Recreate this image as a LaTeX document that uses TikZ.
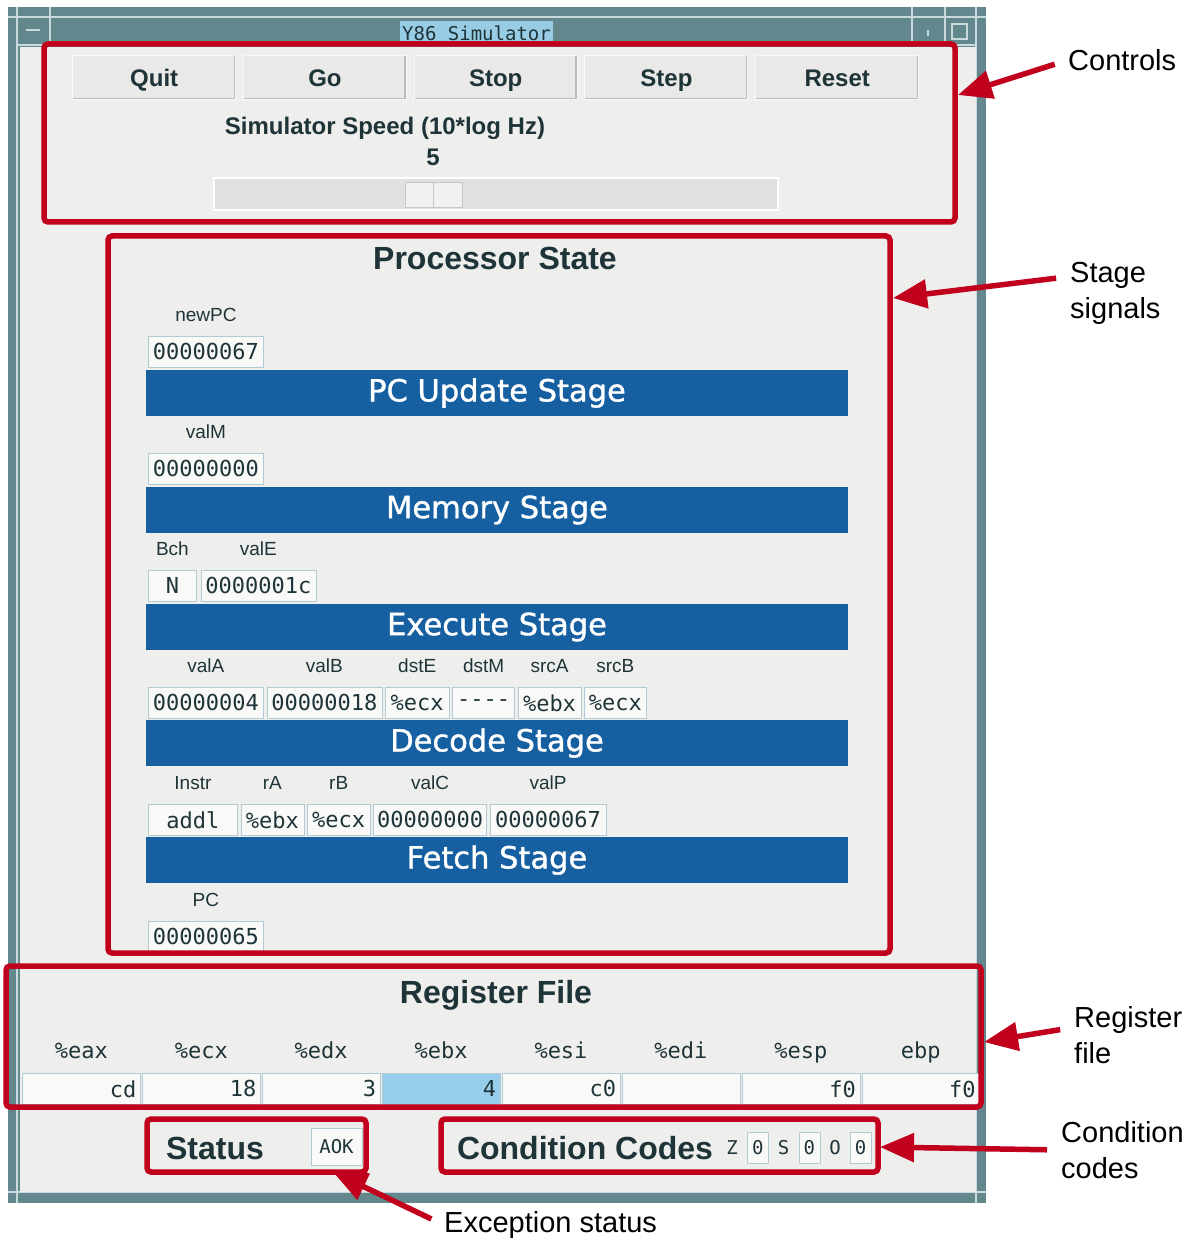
\documentclass[tikz,border=0pt]{standalone}
\usepackage{fontspec}
\setmainfont{Liberation Sans}
\newfontfamily\stagefont[FakeBold=1.2]{DejaVu Sans}
\newfontfamily\monofont{DejaVu Sans Mono}
\usetikzlibrary{shapes,arrows.meta}

\definecolor{framecol}{RGB}{98,136,142}
\definecolor{frameline}{RGB}{200,218,220}
\definecolor{winbg}{RGB}{238,238,236}
\definecolor{redline}{RGB}{192,0,28}
\definecolor{stageblue}{RGB}{22,96,162}
\definecolor{guitext}{RGB}{30,52,56}
\definecolor{fldline}{RGB}{178,202,212}
\definecolor{fldfill}{RGB}{249,249,248}
\definecolor{btnfill}{RGB}{233,233,232}
\definecolor{btnlight}{RGB}{248,248,248}
\definecolor{btnshade}{RGB}{185,186,186}
\definecolor{regsel}{RGB}{150,206,236}
\definecolor{titlesel}{RGB}{152,204,228}

\newcommand\annfont{\fontsize{29}{36}\selectfont}
\newcommand\btnfont{\bfseries\fontsize{24}{28}\selectfont}
\newcommand\speedfont{\bfseries\fontsize{24}{28}\selectfont}
\newcommand\hdfont{\bfseries\fontsize{32}{36}\selectfont}
\newcommand\stgfont{\stagefont\fontsize{30.5}{34}\selectfont}
\newcommand\lblfont{\fontsize{19}{22}\selectfont}
\newcommand\fldfont{\monofont\fontsize{22}{24}\selectfont}
\newcommand\smallmono{\monofont\fontsize{19}{22}\selectfont}
\newcommand\ttlfont{\monofont\fontsize{19}{22}\selectfont}

\begin{document}
\begin{tikzpicture}[x=1pt,y=-1pt]
    \tikzstyle{ann} = [inner sep=0pt, align=left, font=\annfont, text=black]
    \tikzstyle{callout} = [draw=redline, line width=5.5pt, -{Triangle[length=34pt,width=28pt]}, shorten <=14pt]
    \tikzstyle{redbox} = [draw=redline, line width=5.5pt, rounded corners=4pt, inner sep=0pt]
    \tikzstyle{btn} = [fill=btnfill, draw=btnlight, line width=1pt, minimum width=163pt, minimum height=44pt,
        inner sep=0pt, text height=20pt, text depth=2pt, font=\btnfont, text=guitext,
        path picture={\draw[btnshade, line width=4pt] (path picture bounding box.south west)
            -- (path picture bounding box.south east) -- (path picture bounding box.north east);}]
    \tikzstyle{stagebar} = [fill=stageblue, text=white, font=\stgfont, minimum width=702pt, minimum height=46pt, inner sep=0pt]
    \tikzstyle{lbl} = [inner sep=0pt, minimum height=20pt, text height=14pt, text depth=4pt, font=\lblfont, text=guitext]
    \tikzstyle{fld} = [draw=fldline, fill=fldfill, inner sep=3pt, minimum height=31pt, font=\fldfont, text=guitext]
    \tikzstyle{reg} = [fld, text width=110pt, align=right, inner sep=4pt]
    \tikzstyle{reglbl} = [lbl, font=\fldfont]
    \tikzstyle{head} = [font=\hdfont, text=guitext]
    \tikzstyle{ccname} = [inner sep=0pt, minimum width=20pt, font=\smallmono, text=guitext]
    \tikzstyle{ccfld} = [fld, font=\smallmono, minimum width=21pt, inner sep=0pt]

    \useasboundingbox (0,0) rectangle (1192,1241);

    % window frame and title bar
    \fill[framecol] (8,7) rectangle (986,1203);
    \draw[frameline, line width=1.2pt] (8,17) -- (986,17);
    \draw[frameline, line width=1.2pt] (17,7) -- (17,1203);
    \draw[frameline, line width=1.2pt] (976,7) -- (976,1203);
    \draw[frameline, line width=1.2pt] (8,1192) -- (986,1192);
    \draw[frameline, line width=1.2pt] (17,45) -- (976,45);
    \draw[frameline, line width=1.2pt] (50,7) -- (50,45);
    \draw[frameline, line width=1.2pt] (912,7) -- (912,45);
    \draw[frameline, line width=1.2pt] (945,7) -- (945,45);
    \draw[frameline, line width=1.5pt] (26,30) -- (40,30);
    \draw[frameline, line width=1.2pt] (952,24) rectangle (967,39);
    \draw[frameline, line width=1.2pt] (928,30) -- (928,36);
    \fill[winbg] (20,47) rectangle (976,1192);
    \node[font=\ttlfont, fill=titlesel, text=guitext, minimum width=153pt, minimum height=25pt, inner sep=0pt]
        (title) at (476.5,33.5) {Y86 Simulator};

    % controls
    \matrix[matrix anchor=north west, column sep=6.75pt, inner sep=0pt, nodes={btn}] (btnrow) at (72,55) {
        \node (quit) {Quit}; & \node (go) {Go}; & \node (stop) {Stop}; &
        \node (stepbtn) {Step}; & \node (reset) {Reset}; \\
    };
    \node[font=\speedfont, text=guitext] (speed) at (385,128) {Simulator Speed (10*log Hz)};
    \node[font=\speedfont, text=guitext] (speedval) at (433,157) {5};
    \node[fill=black!12, draw=white, line width=1.5pt, minimum width=564pt, minimum height=32pt] (slider) at (496,194) {};
    \node[fill=black!6, draw=black!22, minimum width=57pt, minimum height=25pt] (thumb) at (433.5,194.5) {};
    \draw[black!22] (thumb.north) -- (thumb.south);

    % processor state
    \node[head] (pstitle) at (495,258) {Processor State};
    \matrix[matrix anchor=north west, row sep=10pt, inner sep=0pt] (newpcmat) at (148,306) {
        \node[lbl] (newpcl) {newPC}; \\
        \node[fld, minimum width=115pt] (newpc) {00000067}; \\
    };
    \node[stagebar] (pcbar) at (497,393) {PC Update Stage};
    \matrix[matrix anchor=north west, row sep=10pt, inner sep=0pt] (valmmat) at (148,423) {
        \node[lbl] (valml) {valM}; \\
        \node[fld, minimum width=115pt] (valm) {00000000}; \\
    };
    \node[stagebar] (membar) at (497,510) {Memory Stage};
    \matrix[matrix anchor=north west, row sep=10pt, column sep=4pt, inner sep=0pt] (exmat) at (148,540) {
        \node[lbl] (bchl) {Bch}; & \node[lbl] (valel) {valE}; \\
        \node[fld, minimum width=48pt] (bch) {N}; & \node[fld, minimum width=115pt] (vale) {0000001c}; \\
    };
    \node[stagebar] (exbar) at (497,627) {Execute Stage};
    \matrix[matrix anchor=north west, row sep=10pt, column sep=3pt, inner sep=0pt] (decmat) at (148,657) {
        \node[lbl] (valal) {valA}; & \node[lbl] (valbl) {valB}; & \node[lbl] (dstel) {dstE}; &
        \node[lbl] (dstml) {dstM}; & \node[lbl] (srcal) {srcA}; & \node[lbl] (srcbl) {srcB}; \\
        \node[fld, minimum width=115pt] (vala) {00000004}; & \node[fld, minimum width=115pt] (valb) {00000018}; &
        \node[fld, minimum width=64pt] (dste) {\%ecx}; & \node[fld, minimum width=62pt] (dstm) {----}; &
        \node[fld, minimum width=63pt] (srca) {\%ebx}; & \node[fld, minimum width=62pt] (srcb) {\%ecx}; \\
    };
    \node[stagebar] (decbar) at (497,743) {Decode Stage};
    \matrix[matrix anchor=north west, row sep=10pt, column sep=3pt, inner sep=0pt] (fetmat) at (148,774) {
        \node[lbl] (instrl) {Instr}; & \node[lbl] (ral) {rA}; & \node[lbl] (rbl) {rB}; &
        \node[lbl] (valcl) {valC}; & \node[lbl] (valpl) {valP}; \\
        \node[fld, minimum width=89pt] (instr) {addl}; & \node[fld, minimum width=63pt] (ra) {\%ebx}; &
        \node[fld, minimum width=63pt] (rb) {\%ecx}; & \node[fld, minimum width=113pt] (valc) {00000000}; &
        \node[fld, minimum width=116pt] (valp) {00000067}; \\
    };
    \node[stagebar] (fetbar) at (497,860) {Fetch Stage};
    \matrix[matrix anchor=north west, row sep=10pt, inner sep=0pt] (pcmat) at (148,891) {
        \node[lbl] (pcl) {PC}; \\
        \node[fld, minimum width=115pt] (pc) {00000065}; \\
    };

    % register file
    \node[head] (rftitle) at (496,995) {Register File};
    \matrix[matrix anchor=north west, column sep=1.5pt, row sep=10pt, inner sep=0pt] (regs) at (22,1043) {
        \node[reglbl] (eaxl) {\%eax}; & \node[reglbl] (ecxl) {\%ecx}; & \node[reglbl] (edxl) {\%edx}; &
        \node[reglbl] (ebxl) {\%ebx}; & \node[reglbl] (esil) {\%esi}; & \node[reglbl] (edil) {\%edi}; &
        \node[reglbl] (espl) {\%esp}; & \node[reglbl] (ebpl) {ebp}; \\
        \node[reg] (eax) {cd}; & \node[reg] (ecx) {18}; & \node[reg] (edx) {3}; &
        \node[reg, fill=regsel] (ebx) {4}; & \node[reg] (esi) {c0}; & \node[reg] (edi) {}; &
        \node[reg] (esp) {f0}; & \node[reg] (ebp) {f0}; \\
    };

    % status and condition codes
    \node[head] (statl) at (215,1148) {Status};
    \node[fld, font=\smallmono, minimum width=51pt, minimum height=37pt] (aok) at (336.5,1146.5) {AOK};
    \node[head] (ccl) at (585,1148) {Condition Codes};
    \matrix[matrix anchor=west, column sep=5pt, inner sep=0pt] (ccmat) at (722,1147.5) {
        \node[ccname] (zl) {Z}; & \node[ccfld] (zf) {0}; & \node[ccname] (sl) {S}; &
        \node[ccfld] (sf) {0}; & \node[ccname] (ol) {O}; & \node[ccfld] (of) {0}; \\
    };

    % red frames
    \node[redbox, minimum width=911pt, minimum height=178pt] (ctlbox) at (499.5,133) {};
    \node[redbox, minimum width=782pt, minimum height=717pt] (psbox) at (499,594.5) {};
    \node[redbox, minimum width=975pt, minimum height=141pt] (rfbox) at (493.5,1036.5) {};
    \node[redbox, minimum width=219pt, minimum height=53pt] (stbox) at (256.5,1145.5) {};
    \node[redbox, minimum width=437pt, minimum height=53pt] (ccbox) at (659.5,1145.5) {};

    % annotations
    \node[ann, anchor=west] (ctllbl) at (1068,60) {Controls};
    \node[ann, anchor=west] (sslbl) at (1070,293) {Stage\\signals};
    \node[ann, anchor=west] (rflbl) at (1074,1035) {Register\\file};
    \node[ann, anchor=west] (cclbl) at (1061,1150) {Condition\\codes};
    \node[ann, anchor=west] (exlbl) at (444,1225) {Exception status};

    \coordinate (ctltip) at (958,95);
    \coordinate (sstip) at (893,298);
    \coordinate (rftip) at (984,1042);
    \coordinate (cctip) at (880,1147);
    \coordinate (extip) at (333,1172);

    \draw[callout] (ctllbl.west) -- (ctltip);
    \draw[callout] (sslbl.160) -- (sstip);
    \draw[callout] (rflbl.172) -- (rftip);
    \draw[callout] (cclbl.west) -- (cctip);
    \draw[callout] (exlbl.west) -- (extip);
\end{tikzpicture}
\end{document}
